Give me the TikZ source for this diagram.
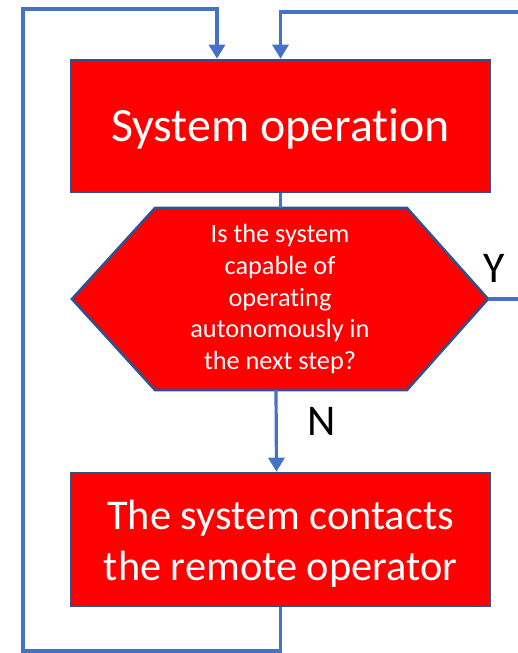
\documentclass[tikz,border=0pt]{standalone}
\usepackage{fontspec}
\setmainfont{Carlito}[Ligatures=NoCommon]
\usetikzlibrary{arrows.meta}
\definecolor{boxred}{HTML}{FF0000}
\definecolor{boxedge}{HTML}{2F528F}
\definecolor{flow}{HTML}{4472C4}

\begin{document}
\begin{tikzpicture}[x=1bp,y=-1bp,
  procbox/.style={draw=boxedge, line width=2.6bp, fill=boxred,
    minimum width=419bp, inner sep=0pt},
  boxtext/.style={text=white, align=center, inner sep=0pt},
  flowline/.style={draw=flow, line width=3.2bp},
  flowarrow/.style={flowline, -{Triangle[width=16bp,length=14bp]}},
  answer/.style={font=\fontsize{44}{50}\selectfont, text=black, inner sep=0pt}]
\useasboundingbox (0,0) rectangle (518,653);

% process boxes, with their captions set a little below centre
\node[procbox, minimum height=132bp,
  label={[boxtext, font=\fontsize{48}{56}\selectfont, yshift=-3bp]center:System operation}]
  (op) at (280.5,126) {};
\node[procbox, minimum height=133bp,
  label={[boxtext, font=\fontsize{42.5}{51}\selectfont, yshift=-4bp]center:The system contacts\\the remote operator}]
  (rem) at (280.5,539.5) {};

% decision hexagon
\draw[draw=boxedge, line width=2.6bp, fill=boxred]
  (72,299) -- (155,208) -- (407,208) -- (488,299) -- (407,390) -- (155,390) -- cycle;
\node[inner sep=0pt, minimum width=416bp, minimum height=182bp, text=white,
  align=center, font=\fontsize{26.4}{32}\selectfont]
  (hex) at (280,299) {Is the system\\capable of\\operating\\autonomously in\\the next step?};

% free ends at the page edge
\coordinate (loopBL) at (23,651);
\coordinate (loopTL) at (23,9);
\coordinate (feedR) at (518,12);
\coordinate (yesR) at (518,297);

% connectors
\draw[flowline] (op.south) -- (op.south |- hex.north);
\draw[flowarrow] ([xshift=-4bp]hex.south) -- ([xshift=-4bp]rem.north);
\draw[flowarrow] (rem.south) |- (loopBL) -- (loopTL) -| ([xshift=-63.5bp]op.north);
\draw[flowarrow] (feedR) -| (op.north);
\draw[flowline] (hex.east) -- (hex.east -| yesR);

% branch labels
\node[answer] (yes) at (494,268) {Y};
\node[answer] (no) at (322,421) {N};
\end{tikzpicture}
\end{document}
